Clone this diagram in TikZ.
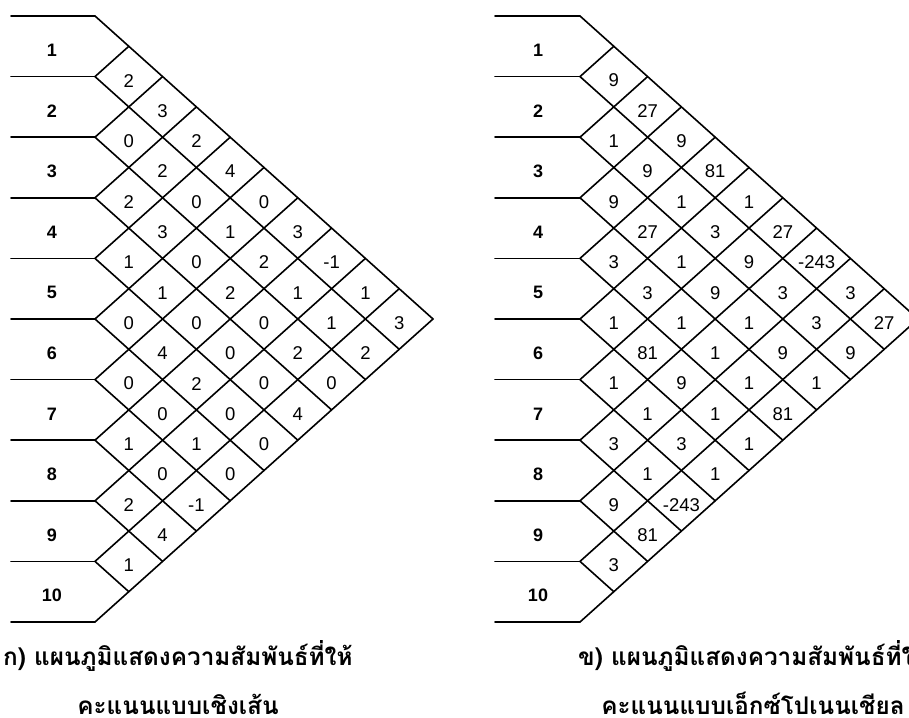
\documentclass[tikz,border=0pt]{standalone}
\usepackage{fontspec}
\setmainfont{Liberation Sans}
\newfontfamily\thaifont[Script=Thai]{Loma}
\begin{document}
\begin{tikzpicture}[x=1pt,y=1pt,
  grid/.style={line width=1.6pt, line cap=round, line join=miter},
  rowlab/.style={font=\fontsize{18}{20}\selectfont\bfseries, inner sep=0pt},
  cellval/.style={font=\fontsize{18.5}{20}\selectfont, inner sep=0.6pt, fill=white},
  captext/.style={font=\thaifont\bfseries\fontsize{24.3}{28}\selectfont, inner sep=0pt}]
\useasboundingbox (0,0) rectangle (909,717);
\def\hw{33.8}
\def\dd{30.3}
\foreach \name/\xs/\xo/\xl in {A/11/95/52, B/495/580/538} {
  \foreach \k in {0,...,10} {
    \pgfmathsetmacro{\yk}{701-2*\dd*\k}
    \coordinate (\name-s\k) at (\xs,\yk);
    \coordinate (\name-L\k) at (\xo,\yk);
    \coordinate (\name-D\k) at ({\xo+(10-\k)*\hw},{\yk-(10-\k)*\dd});
    \coordinate (\name-U\k) at ({\xo+\k*\hw},{\yk+\k*\dd});
    \draw[grid] (\name-s\k) -- (\name-L\k);
  }
  \foreach \k in {0,...,9} { \draw[grid] (\name-L\k) -- (\name-D\k); }
  \foreach \k in {1,...,10} { \draw[grid] (\name-L\k) -- (\name-U\k); }
  \foreach \k in {1,...,10} {
    \node[rowlab] (\name-lab\k) at ({\xl},{701-2*\dd*(\k-0.5)-4}) {\k};
  }
}
% left diagram values
\foreach \i/\j/\v in {1/2/2, 1/3/3, 2/3/0, 1/4/2, 2/4/2, 1/5/4,
  3/4/2, 2/5/0, 1/6/0, 3/5/3, 2/6/1, 1/7/3,
  4/5/1, 3/6/0, 2/7/2, 1/8/-1, 4/6/1, 3/7/2, 2/8/1, 1/9/1,
  5/6/0, 4/7/0, 3/8/0, 2/9/1, 1/10/3, 5/7/4, 4/8/0, 3/9/2, 2/10/2,
  6/7/0, 5/8/2, 4/9/0, 3/10/0, 6/8/0, 5/9/0, 4/10/4,
  7/8/1, 6/9/1, 5/10/0, 7/9/0, 6/10/0, 8/9/2, 7/10/-1, 8/10/4, 9/10/1} {
  \node[cellval] (A-c\i-\j) at ({95+(\j-\i)*\hw},{701-\dd*(\i+\j-1)-4}) {\v};
}
% right diagram values
\foreach \i/\j/\v in {1/2/9, 1/3/27, 2/3/1, 1/4/9, 2/4/9, 1/5/81,
  3/4/9, 2/5/1, 1/6/1, 3/5/27, 2/6/3, 1/7/27,
  4/5/3, 3/6/1, 2/7/9, 1/8/-243, 4/6/3, 3/7/9, 2/8/3, 1/9/3,
  5/6/1, 4/7/1, 3/8/1, 2/9/3, 1/10/27, 5/7/81, 4/8/1, 3/9/9, 2/10/9,
  6/7/1, 5/8/9, 4/9/1, 3/10/1, 6/8/1, 5/9/1, 4/10/81,
  7/8/3, 6/9/3, 5/10/1, 7/9/1, 6/10/1, 8/9/9, 7/10/-243, 8/10/81, 9/10/3} {
  \node[cellval] (B-c\i-\j) at ({580+(\j-\i)*\hw},{701-\dd*(\i+\j-1)-4}) {\v};
}
% captions
\node[captext, anchor=base west] (capA1) at (3,52) {ก) แผนภูมิแสดงความสัมพันธ์ที่ให้};
\node[captext, anchor=base] (capA2) at (178,3) {คะแนนแบบเชิงเส้น};
\node[captext, anchor=base west] (capB1) at (578,52) {ข) แผนภูมิแสดงความสัมพันธ์ที่ให้};
\node[captext, anchor=base] (capB2) at (753,3) {คะแนนแบบเอ็กซ์โปเนนเชียล};
\end{tikzpicture}
\end{document}
